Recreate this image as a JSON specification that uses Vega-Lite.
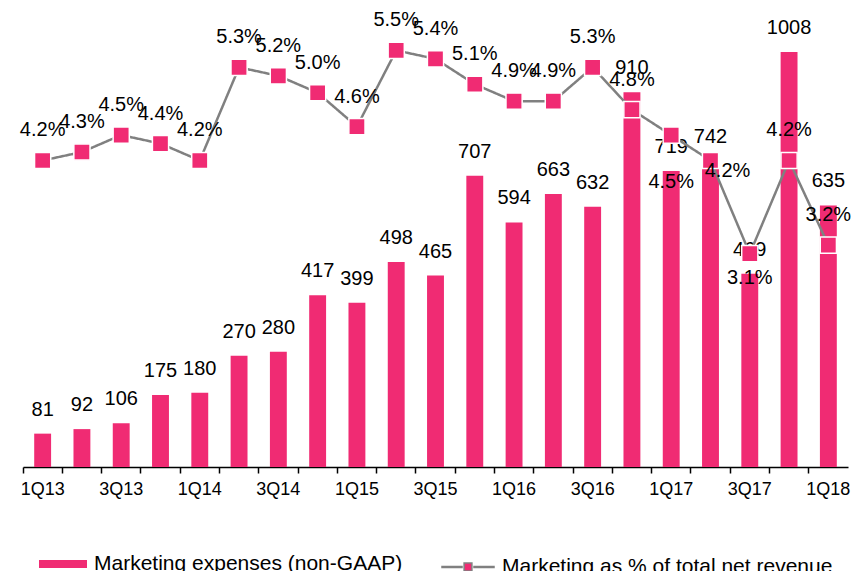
{
  "$schema": "https://vega.github.io/schema/vega-lite/v6.json",
  "width": 825,
  "height": 453,
  "autosize": {"type": "none"},
  "padding": {"left": 23, "top": 14, "right": 4, "bottom": 104},
  "config": {
    "view": {"stroke": null},
    "font": "Liberation Sans",
    "legend": {"layout": {"bottom": {"anchor": "middle", "direction": "horizontal", "margin": 38}}}
  },
  "data": {
    "values": [
      {"q": "1Q13", "exp": 81, "pct": 0.042},
      {"q": "2Q13", "exp": 92, "pct": 0.043},
      {"q": "3Q13", "exp": 106, "pct": 0.045},
      {"q": "4Q13", "exp": 175, "pct": 0.044},
      {"q": "1Q14", "exp": 180, "pct": 0.042},
      {"q": "2Q14", "exp": 270, "pct": 0.053},
      {"q": "3Q14", "exp": 280, "pct": 0.052},
      {"q": "4Q14", "exp": 417, "pct": 0.050},
      {"q": "1Q15", "exp": 399, "pct": 0.046},
      {"q": "2Q15", "exp": 498, "pct": 0.055},
      {"q": "3Q15", "exp": 465, "pct": 0.054},
      {"q": "4Q15", "exp": 707, "pct": 0.051},
      {"q": "1Q16", "exp": 594, "pct": 0.049},
      {"q": "2Q16", "exp": 663, "pct": 0.049},
      {"q": "3Q16", "exp": 632, "pct": 0.053},
      {"q": "4Q16", "exp": 910, "pct": 0.048},
      {"q": "1Q17", "exp": 719, "pct": 0.045},
      {"q": "2Q17", "exp": 742, "pct": 0.042},
      {"q": "3Q17", "exp": 469, "pct": 0.031},
      {"q": "4Q17", "exp": 1008, "pct": 0.042},
      {"q": "1Q18", "exp": 635, "pct": 0.032}
    ]
  },
  "encoding": {
    "x": {
      "field": "q",
      "type": "ordinal",
      "sort": null,
      "title": null,
      "scale": {"paddingInner": 0, "paddingOuter": 0},
      "axis": {
        "bandPosition": 0,
        "labelAngle": 0,
        "labelExpr": "test(/^[13]Q/, datum.value) ? datum.value : ''",
        "labelFontSize": 18,
        "labelColor": "#000000",
        "labelPadding": 7,
        "domainColor": "#000000",
        "domainWidth": 1.5,
        "tickColor": "#000000",
        "tickWidth": 1.5,
        "tickSize": 6,
        "grid": false
      }
    }
  },
  "layer": [
    {
      "encoding": {
        "y": {"field": "exp", "type": "quantitative", "scale": {"domain": [0, 1100]}, "axis": null}
      },
      "layer": [
        {
          "mark": {"type": "bar", "width": {"band": 0.43}},
          "encoding": {
            "color": {
              "datum": "Marketing expenses (non-GAAP)",
              "scale": {"range": ["#F02B73"]},
              "legend": {
                "title": null,
                "orient": "bottom",
                "offset": 42,
                "padding": 0,
                "symbolType": "M-1,-0.17H1V0.17H-1Z",
                "symbolSize": 2304,
                "symbolStrokeWidth": 0,
                "labelFontSize": 21,
                "labelColor": "#000000",
                "labelOffset": 7,
                "labelLimit": 600
              }
            }
          }
        },
        {
          "mark": {"type": "text", "baseline": "middle", "dy": -24, "fontSize": 20, "color": "#000000"},
          "encoding": {"text": {"field": "exp", "type": "quantitative"}}
        }
      ]
    },
    {
      "encoding": {
        "y": {"field": "pct", "type": "quantitative", "scale": {"domain": [0.0058, 0.0593], "zero": false, "nice": false}, "axis": null}
      },
      "layer": [
        {
          "mark": {"type": "line", "color": "#808080", "strokeWidth": 2.5},
          "encoding": {
            "strokeDash": {
              "datum": "Marketing as % of total net revenue",
              "scale": {"range": [[1, 0]]},
              "legend": {
                "title": null,
                "orient": "bottom",
                "offset": 42,
                "padding": 0,
                "symbolType": "M-1,-0.02H-0.23V0.02H-1Z M0.23,-0.02H1V0.02H0.23Z M-0.15,-0.15H0.15V0.15H-0.15Z",
                "symbolSize": 2704,
                "symbolFillColor": "#F02B73",
                "symbolStrokeColor": "#808080",
                "symbolStrokeWidth": 1.5,
                "labelFontSize": 21,
                "labelColor": "#000000",
                "labelOffset": 7,
                "labelLimit": 600
              }
            }
          }
        },
        {
          "mark": {"type": "point", "shape": "square", "filled": true, "size": 262, "fill": "#F02B73", "stroke": "#ffffff", "strokeWidth": 1.5, "opacity": 1}
        },
        {
          "transform": [{"filter": {"not": {"field": "q", "oneOf": ["1Q17", "2Q17", "3Q17"]}}}],
          "mark": {"type": "text", "baseline": "middle", "dy": -30, "fontSize": 20, "color": "#000000"},
          "encoding": {"text": {"field": "pct", "type": "quantitative", "format": ".1%"}}
        },
        {
          "transform": [{"filter": {"field": "q", "oneOf": ["1Q17"]}}],
          "mark": {"type": "text", "baseline": "middle", "dy": 47, "fontSize": 20, "color": "#000000"},
          "encoding": {"text": {"field": "pct", "type": "quantitative", "format": ".1%"}}
        },
        {
          "transform": [{"filter": {"field": "q", "oneOf": ["3Q17"]}}],
          "mark": {"type": "text", "baseline": "middle", "dy": 24, "fontSize": 20, "color": "#000000"},
          "encoding": {"text": {"field": "pct", "type": "quantitative", "format": ".1%"}}
        },
        {
          "transform": [{"filter": {"field": "q", "oneOf": ["2Q17"]}}],
          "mark": {"type": "text", "baseline": "middle", "dx": 17, "dy": 11, "fontSize": 20, "color": "#000000"},
          "encoding": {"text": {"field": "pct", "type": "quantitative", "format": ".1%"}}
        }
      ]
    }
  ],
  "resolve": {"scale": {"y": "independent"}}
}
